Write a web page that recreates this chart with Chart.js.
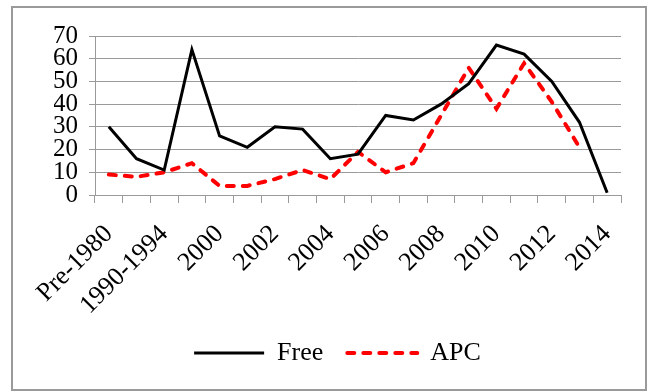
<!DOCTYPE html>
<html>
<head>
<meta charset="utf-8">
<script src="https://cdn.jsdelivr.net/npm/chart.js@4/dist/chart.umd.min.js"></script>
<style>
  html, body { margin: 0; padding: 0; background: #fff; }
  #wrap { position: relative; width: 651px; height: 392px; }
  #frame { position: absolute; left: 11px; top: 6px; width: 632px; height: 381px; border: 2px solid #9a9a9a; pointer-events: none; }
  canvas { position: absolute; left: 0; top: 0; }
</style>
</head>
<body>
<div id="wrap">
  <canvas id="c" width="651" height="392"></canvas>
  <div id="frame"></div>
</div>
<script>
const categories = ['Pre-1980', '1980-1989', '1990-1994', '1995-1999', '2000', '2001', '2002', '2003', '2004', '2005', '2006', '2007', '2008', '2009', '2010', '2011', '2012', '2013', '2014'];
const freeValues = [30, 16, 11, 64, 26, 21, 30, 29, 16, 18, 35, 33, 40, 49, 66, 62, 50, 32, 1];
const apcValues = [9, 8, 10, 14, 4, 4, 7, 11, 7, 19, 10, 14, 35, 56, 38, 58, 41, 21, null];
const yTicks = [0, 10, 20, 30, 40, 50, 60, 70];

const serif = '"Liberation Serif", "Times New Roman", serif';
const gridColor = '#9a9a9a';

new Chart(document.getElementById('c'), {
  type: 'line',
  data: {
    labels: categories,
    datasets: [
      {
        label: 'Free',
        data: freeValues,
        borderColor: '#000000',
        backgroundColor: '#000000',
        borderWidth: 3,
        pointRadius: 0,
        tension: 0,
        fill: false
      },
      {
        label: 'APC',
        data: apcValues,
        borderColor: '#ff0000',
        backgroundColor: '#ff0000',
        borderWidth: 4,
        borderDash: [7, 9],
        borderCapStyle: 'round',
        pointRadius: 0,
        tension: 0,
        fill: false
      }
    ]
  },
  options: {
    responsive: false,
    animation: false,
    devicePixelRatio: 1,
    layout: { padding: { left: 54, right: 30, top: 36, bottom: 16 } },
    plugins: {
      tooltip: { enabled: false },
      title: { display: false },
      legend: {
        position: 'bottom',
        labels: {
          usePointStyle: true,
          pointStyle: 'line',
          pointStyleWidth: 70,
          boxHeight: 26,
          padding: 24,
          color: '#000',
          font: { family: serif, size: 26 },
          generateLabels: function (chart) {
            const items = Chart.defaults.plugins.legend.labels.generateLabels(chart);
            items.forEach(function (it) {
              const ds = chart.data.datasets[it.datasetIndex];
              it.lineDash = ds.borderDash || [];
              it.lineWidth = ds.borderWidth;
              it.strokeStyle = ds.borderColor;
              it.fillStyle = ds.borderColor;
              it.lineCap = ds.borderCapStyle || 'butt';
              it.pointStyle = 'line';
            });
            return items;
          }
        }
      }
    },
    scales: {
      x: {
        offset: true,
        grid: {
          display: true,
          offset: true,
          drawOnChartArea: false,
          drawTicks: true,
          tickLength: 8,
          color: gridColor,
          lineWidth: 1
        },
        border: { display: true, color: gridColor, width: 1 },
        ticks: {
          autoSkip: false,
          minRotation: 45,
          maxRotation: 45,
          padding: 16,
          color: '#000',
          font: { family: serif, size: 26 },
          callback: function (value, index) {
            return index % 2 === 0 ? categories[index] : '';
          }
        },
        afterFit: function (scale) { scale.height = 121; }
      },
      y: {
        min: 0,
        max: 70,
        afterBuildTicks: function (scale) { scale.ticks = yTicks.map(v => ({ value: v })); },
        grid: {
          color: gridColor,
          lineWidth: 1,
          drawTicks: true,
          tickLength: 6
        },
        border: { display: true, color: gridColor, width: 1 },
        ticks: {
          autoSkip: false,
          stepSize: 10,
          padding: 11,
          color: '#000',
          font: { family: serif, size: 25 }
        },
        afterFit: function (scale) { scale.width = 41; }
      }
    }
  }
});
</script>
</body>
</html>
